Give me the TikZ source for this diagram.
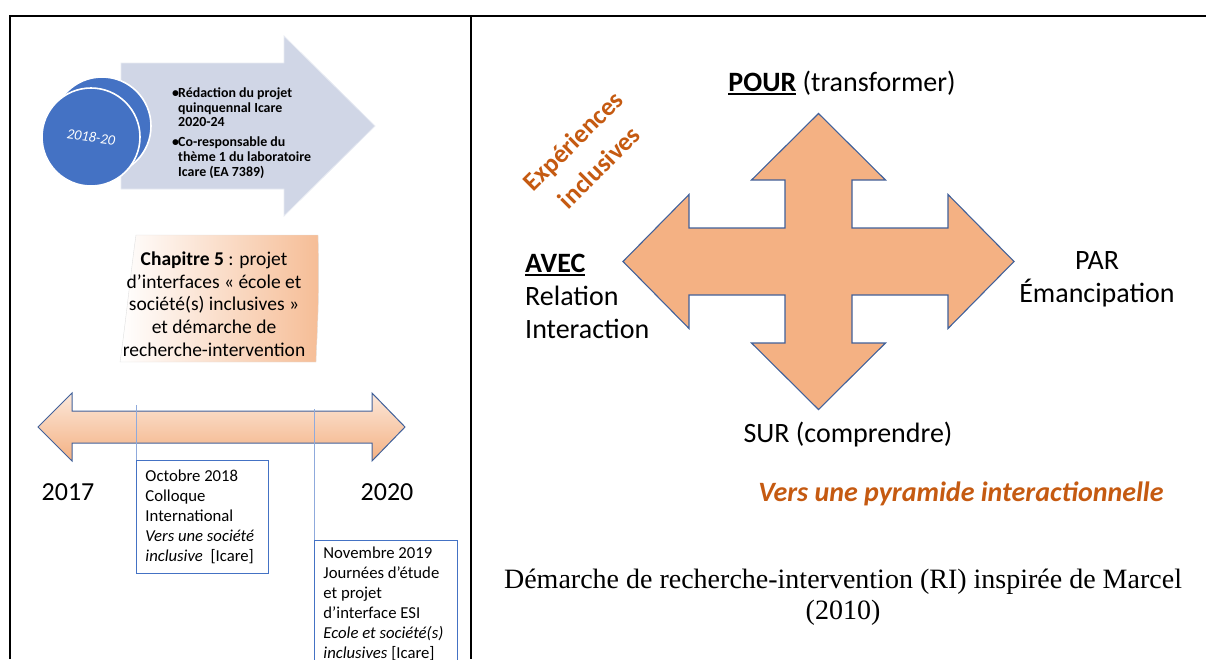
\documentclass[tikz,border=0pt]{standalone}
\usepackage{fontspec}
\setmainfont{Carlito}
\newfontfamily\serifcap{Liberation Serif}
\usepackage{tikz}

\definecolor{peach}{HTML}{F4B183}
\definecolor{edgeblue}{HTML}{41619A}
\definecolor{slate}{HTML}{D0D6E6}
\definecolor{accent}{HTML}{4472C4}
\definecolor{rust}{HTML}{C55A11}
\definecolor{tickblue}{HTML}{8FAADC}

\newcommand{\ulword}[1]{\setbox0\hbox{#1}\rlap{\rule[-4pt]{\wd0}{2pt}}\box0\relax}

\tikzset{
  frame/.style={line width=2.2pt},
  cross/.style={fill=peach, draw=edgeblue, line width=1.1pt},
  bigtxt/.style={font=\fontsize{28}{33}\selectfont, inner sep=0pt},
  datebox/.style={draw=accent, line width=0.9pt, align=flush left, anchor=north west,
                  font=\fontsize{16.7}{20}\selectfont, inner xsep=9pt},
  tick/.style={draw=tickblue, line width=0.9pt},
  year/.style={font=\fontsize{26}{30}\selectfont, inner sep=0pt},
  disc/.style={circle, fill=accent, draw=white, line width=1.6pt, minimum size=98pt, inner sep=0pt},
}

\begin{document}
\begin{tikzpicture}[x=1pt,y=-1pt]
        \useasboundingbox (0,0) rectangle (1206,659);
        \clip (0,0) rectangle (1206,659);

        \draw [frame] (10,659) -- (10,16) -- (1206,16);             %frame
        \draw [frame] (471,16) -- (471,659);                         %separator

        % left: 2018-20
        \draw [fill=slate, draw=slate!50!white, line width=0.8pt] (121,63) -- (284,63) -- (284,36) -- (375,126)
              -- (284,216) -- (284,189) -- (121,189) -- cycle;
        \node [disc] (discback) at (102,126) {};
        \node [disc] (disc)     at (91,137)  {};
        \node [rotate=-8, text=white, font=\itshape\fontsize{14.5}{16}\selectfont] (period) at (disc) {2018-20};
        \node [anchor=west, align=flush left, inner sep=0pt, font=\bfseries\fontsize{13.9}{14.6}\selectfont] (plan) at (172,133)
              {\makebox[6pt][l]{\textbullet}Rédaction du projet\\\hspace*{6pt}quinquennal Icare\\\hspace*{6pt}2020-24\\[5.5pt]%
               \makebox[6pt][l]{\textbullet}Co-responsable du\\\hspace*{6pt}thème 1 du laboratoire\\\hspace*{6pt}Icare (EA 7389)};

        % chapitre 5
        \path [draw=gray!25, left color=white, right color=peach!85] (136,235) -- (318,235)
              .. controls (320,290) and (317,335) .. (316,362) -- (120,362)
              .. controls (126,320) and (131,270) .. (136,235) -- cycle;
        \node [align=center, inner sep=0pt, font=\fontsize{19.5}{22.7}\selectfont] (chap) at (214,304)
              {\textbf{Chapitre 5} : projet\\d’interfaces « école et\\société(s) inclusives »\\et démarche de\\recherche-intervention};

        % timeline
        \draw [top color=peach!30, bottom color=peach, draw=edgeblue, line width=1pt] (38,427) -- (72,393) -- (72,411)
              -- (372,411) -- (372,393) -- (405,427) -- (372,461) -- (372,443) -- (72,443) -- (72,461) -- cycle;
        \coordinate (t1) at (136,405);
        \coordinate (t2) at (314,409);
        \node [year] (y17) at (68,492)  {2017};
        \node [year] (y20) at (387,492) {2020};
        \node [datebox, minimum width=132pt, minimum height=113pt, text width=114pt] (oct) at (136,460)
              {Octobre 2018\\Colloque\\International\\\textit{Vers une société}\\\textit{inclusive}\ \ [Icare]};
        \node [datebox, text width=125pt, inner ysep=6pt] (nov) at (314,540)
              {Novembre 2019\\Journées d’étude\\et projet\\d’interface ESI\\\textit{Ecole et société(s)}\\\textit{inclusives} [Icare]};
        \draw [tick] (t1) -- (oct.north west);
        \draw [tick] (t2) -- (nov.north west);

        % right: cross
        \draw [cross] (818.5,113.5) -- (885.5,180) -- (852,180) -- (852,228) -- (948,228) -- (948,194.5)
              -- (1014,261.5) -- (948,328.5) -- (948,295) -- (852,295) -- (852,343) -- (885.5,343)
              -- (818.5,409.5) -- (751.5,343) -- (785,343) -- (785,295) -- (689,295) -- (689,328.5)
              -- (623,261.5) -- (689,194.5) -- (689,228) -- (785,228) -- (785,180) -- (751.5,180) -- cycle;
        \node [bigtxt] (pour) at (842,83)  {\ulword{\textbf{POUR}} (transformer)};
        \node [bigtxt] (sur)  at (848,435) {SUR (comprendre)};
        \node [bigtxt, anchor=west, align=flush left] (avec) at (525,296) {\ulword{\textbf{AVEC}}\\Relation\\Interaction};
        \node [bigtxt, align=center] (par) at (1097,279) {PAR\\Émancipation};
        \node [rotate=45, align=center, text=rust, font=\bfseries\fontsize{26}{37}\selectfont] (exp) at (586,154)
              {Expériences\\inclusives};
        \node [text=rust, font=\bfseries\itshape\fontsize{28}{32}\selectfont] (pyr) at (961,494) {Vers une pyramide interactionnelle};
        \node [align=center, font=\serifcap\fontsize{28}{31}\selectfont] (caption) at (843,597)
              {Démarche de recherche-intervention (RI) inspirée de Marcel\\(2010)};
\end{tikzpicture}
\end{document}
